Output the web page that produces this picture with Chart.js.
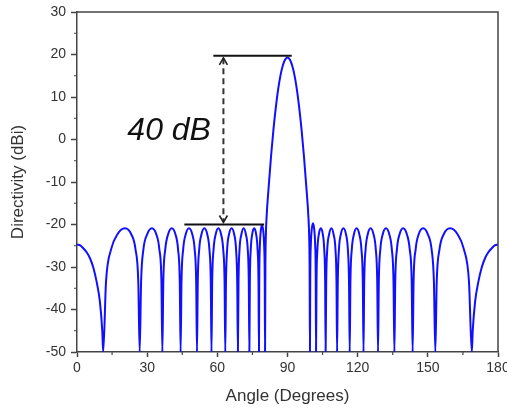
<!DOCTYPE html>
<html>
<head>
<meta charset="utf-8">
<script src="https://cdn.jsdelivr.net/npm/chart.js@4"></script>
<style>
  body { margin: 0; background: #fff; }
  #wrap { width: 507px; height: 409px; }
</style>
</head>
<body>
<div id="wrap"><canvas id="chart"></canvas></div>
<script>
// Directivity pattern: [angle (deg), directivity (dBi)]
const endLobeLeft = [[0,-24.7],[1.4,-24.9],[2.7,-25.6],[4.2,-26.6],[5.6,-28],[7.0,-30.2],[8.4,-33.5],[9.8,-38.2],[10.8,-45],[11.2,-50]];

const sideLobesLeft = [
  [12.4,-33.5],[14.6,-25.8],[17.3,-22.3],[20.5,-20.9],[23.2,-22.3],[25.0,-25.8],[26.2,-33.5],[26.8,-50],
  [27.4,-33.5],[28.4,-25.8],[30.0,-22.3],[32.0,-20.9],[33.9,-22.3],[35.2,-25.8],[36.1,-33.5],[36.5,-50],
  [36.9,-33.5],[37.75,-25.8],[38.96,-22.3],[40.55,-20.9],[42.08,-22.3],[43.2,-25.8],[43.94,-33.5],[44.3,-50],
  [44.67,-33.5],[45.4,-25.8],[46.48,-22.3],[47.89,-20.9],[49.28,-22.3],[50.3,-25.8],[50.96,-33.5],[51.3,-50],
  [51.63,-33.5],[52.26,-25.8],[53.22,-22.3],[54.46,-20.9],[55.69,-22.3],[56.6,-25.8],[57.2,-33.5],[57.5,-50],
  [57.8,-33.5],[58.4,-25.8],[59.3,-22.3],[60.45,-20.9],[61.6,-22.3],[62.5,-25.8],[63.1,-33.5],[63.4,-50],
  [63.7,-33.5],[64.2,-25.8],[65.0,-22.3],[66.1,-20.9],[67.2,-22.3],[68.0,-25.8],[68.5,-33.5],[68.8,-50],
  [69.05,-33.5],[69.5,-25.8],[70.3,-22.3],[71.25,-20.9],[72.2,-22.3],[73.0,-25.8],[73.45,-33.5],[73.7,-50],
  [73.9,-33.5],[74.3,-25.8],[74.9,-22.3],[75.75,-20.9],[76.6,-22.3],[77.2,-25.8],[77.6,-33.5],[77.8,-50],
  [77.93,-32.7],[78.19,-25.0],[78.58,-21.5],[79.1,-20.1],[79.62,-21.5],[80.01,-25.0],[80.27,-32.7],[80.4,-50]
];

const mainLobe = [
  [80.55,-30],[80.75,-22.5],[81.0,-18.8],[82,-10.8],[83,-3.7],[84,2.4],[85,7.5],[86,11.8],[87,15.1],[88,17.4],[89,18.8],
  [90,19.3],
  [91,18.8],[92,17.4],[93,15.1],[94,11.8],[95,7.5],[96,2.4],[97,-3.7],[98,-10.8],[99,-18.8],[99.25,-22.5],[99.45,-30],[99.6,-50]
];

const sideLobesRight = [
  [99.73,-32.3],[99.99,-24.6],[100.38,-21.1],[100.9,-19.7],[101.42,-21.1],[101.81,-24.6],[102.07,-32.3],[102.2,-50],
  [102.4,-33.5],[102.8,-25.8],[103.4,-22.3],[104.25,-20.9],[105.1,-22.3],[105.7,-25.8],[106.1,-33.5],[106.3,-50],
  [106.55,-33.5],[107.0,-25.8],[107.8,-22.3],[108.75,-20.9],[109.7,-22.3],[110.5,-25.8],[110.95,-33.5],[111.2,-50],
  [111.5,-33.5],[112.0,-25.8],[112.8,-22.3],[113.9,-20.9],[115.0,-22.3],[115.8,-25.8],[116.3,-33.5],[116.6,-50],
  [116.9,-33.5],[117.5,-25.8],[118.4,-22.3],[119.55,-20.9],[120.7,-22.3],[121.6,-25.8],[122.2,-33.5],[122.5,-50],
  [122.8,-33.5],[123.4,-25.8],[124.31,-22.3],[125.54,-20.9],[126.78,-22.3],[127.74,-25.8],[128.37,-33.5],[128.7,-50],
  [129.04,-33.5],[129.7,-25.8],[130.72,-22.3],[132.11,-20.9],[133.52,-22.3],[134.6,-25.8],[135.33,-33.5],[135.7,-50],
  [136.06,-33.5],[136.8,-25.8],[137.92,-22.3],[139.45,-20.9],[141.04,-22.3],[142.25,-25.8],[143.1,-33.5],[143.5,-50],
  [143.9,-33.5],[144.8,-25.8],[146.1,-22.3],[148.0,-20.9],[150.0,-22.3],[151.6,-25.8],[152.6,-33.5],[153.2,-50],
  [153.8,-33.5],[155.0,-25.8],[156.8,-22.3],[159.5,-20.9],[162.7,-22.3],[165.4,-25.8],[167.6,-33.5],[168.8,-50]
];

const endLobeRight = [[169.2,-45],[170.2,-38.2],[171.6,-33.5],[173.0,-30.2],[174.4,-28],[175.8,-26.6],[177.3,-25.6],[178.6,-24.9],[180,-24.7]];

// annotation: 40 dB main-lobe to side-lobe gap
const peakLevel = 19.7;
const sideLobeLevel = -20;
const peakLineX = [58.3, 91.8];
const sideLineX = [45.9, 80.0];
const arrowX = 62.6;
const gapLabel = "40 dB";
const gapLabelPos = [39.4, 2.0];

// axes
const xRange = [0, 180], xStep = 30;
const yRange = [-50, 30], yStep = 10;
const xMinorTicks = [15, 45, 75, 105, 135, 165];
const yMinorTicks = [-45, -35, -25, -15, -5, 5, 15, 25];

const axisColor = "#444";
const fontFamily = "'Liberation Sans', Arial, sans-serif";

const toXY = pts => pts.map(([x, y]) => ({ x, y }));
const pattern = [...endLobeLeft, ...sideLobesLeft, ...mainLobe, ...sideLobesRight, ...endLobeRight];

const decorations = {
  id: "decorations",
  afterDraw(chart) {
    const { ctx, chartArea: a, scales: { x, y } } = chart;
    ctx.save();
    ctx.strokeStyle = axisColor;
    ctx.lineWidth = 1.5;
    ctx.beginPath();
    ctx.moveTo(a.left, a.top);
    ctx.lineTo(a.right, a.top);
    ctx.lineTo(a.right, a.bottom);
    ctx.stroke();

    // minor ticks
    ctx.lineWidth = 1.2;
    ctx.beginPath();
    xMinorTicks.forEach(v => {
      const px = x.getPixelForValue(v);
      ctx.moveTo(px, a.bottom);
      ctx.lineTo(px, a.bottom + 3);
    });
    yMinorTicks.forEach(v => {
      const py = y.getPixelForValue(v);
      ctx.moveTo(a.left, py);
      ctx.lineTo(a.left - 3, py);
    });
    ctx.stroke();

    // arrow heads
    const ax = x.getPixelForValue(arrowX);
    const topTip = y.getPixelForValue(peakLevel) + 2;
    const botTip = y.getPixelForValue(sideLobeLevel) - 2;
    ctx.strokeStyle = "#222";
    ctx.lineWidth = 1.6;
    ctx.beginPath();
    ctx.moveTo(ax - 4, topTip + 7); ctx.lineTo(ax, topTip); ctx.lineTo(ax + 4, topTip + 7);
    ctx.moveTo(ax - 4, botTip - 7); ctx.lineTo(ax, botTip); ctx.lineTo(ax + 4, botTip - 7);
    ctx.stroke();

    // label
    ctx.fillStyle = "#111";
    ctx.font = "italic 32px " + fontFamily;
    ctx.textAlign = "center";
    ctx.textBaseline = "middle";
    ctx.fillText(gapLabel, x.getPixelForValue(gapLabelPos[0]), y.getPixelForValue(gapLabelPos[1]));
    ctx.restore();
  }
};

new Chart(document.getElementById("chart"), {
  type: "line",
  data: {
    datasets: [
      {
        data: toXY([[peakLineX[0], peakLevel], [peakLineX[1], peakLevel]]),
        borderColor: "#111", borderWidth: 2, pointRadius: 0
      },
      {
        data: toXY([[sideLineX[0], sideLobeLevel], [sideLineX[1], sideLobeLevel]]),
        borderColor: "#111", borderWidth: 2, pointRadius: 0
      },
      {
        data: toXY([[arrowX, peakLevel - 0.6], [arrowX, sideLobeLevel + 0.6]]),
        borderColor: "#333", borderWidth: 2, borderDash: [6, 4], pointRadius: 0
      },
      {
        data: toXY(pattern),
        borderColor: "#1010ff", borderWidth: 2, pointRadius: 0,
        cubicInterpolationMode: "monotone"
      }
    ]
  },
  options: {
    responsive: true,
    maintainAspectRatio: false,
    animation: false,
    layout: { padding: { left: 0, right: 9, top: 12, bottom: 0 } },
    plugins: { legend: { display: false }, tooltip: { enabled: false } },
    scales: {
      x: {
        type: "linear",
        min: xRange[0], max: xRange[1],
        ticks: { stepSize: xStep, color: "#333", padding: 3, font: { family: fontFamily, size: 14 } },
        grid: { drawOnChartArea: false, tickLength: 5, tickColor: axisColor, tickWidth: 1.5 },
        border: { color: axisColor, width: 1.5 },
        title: { display: true, text: "Angle (Degrees)", color: "#333", padding: { top: 0, bottom: 2 }, font: { family: fontFamily, size: 17 } },
        afterFit(scale) { scale.height = 57; scale.paddingLeft = 0; scale.paddingRight = 0; }
      },
      y: {
        min: yRange[0], max: yRange[1],
        ticks: { stepSize: yStep, color: "#333", padding: 5, font: { family: fontFamily, size: 14 } },
        grid: { drawOnChartArea: false, tickLength: 6, tickColor: axisColor, tickWidth: 1.5 },
        border: { color: axisColor, width: 1.5 },
        title: { display: true, text: "Directivity (dBi)", color: "#333", padding: { top: 8, bottom: 0 }, font: { family: fontFamily, size: 17 } },
        afterFit(scale) { scale.width = 77; scale.paddingTop = 0; scale.paddingBottom = 0; }
      }
    }
  },
  plugins: [decorations]
});
</script>
</body>
</html>
